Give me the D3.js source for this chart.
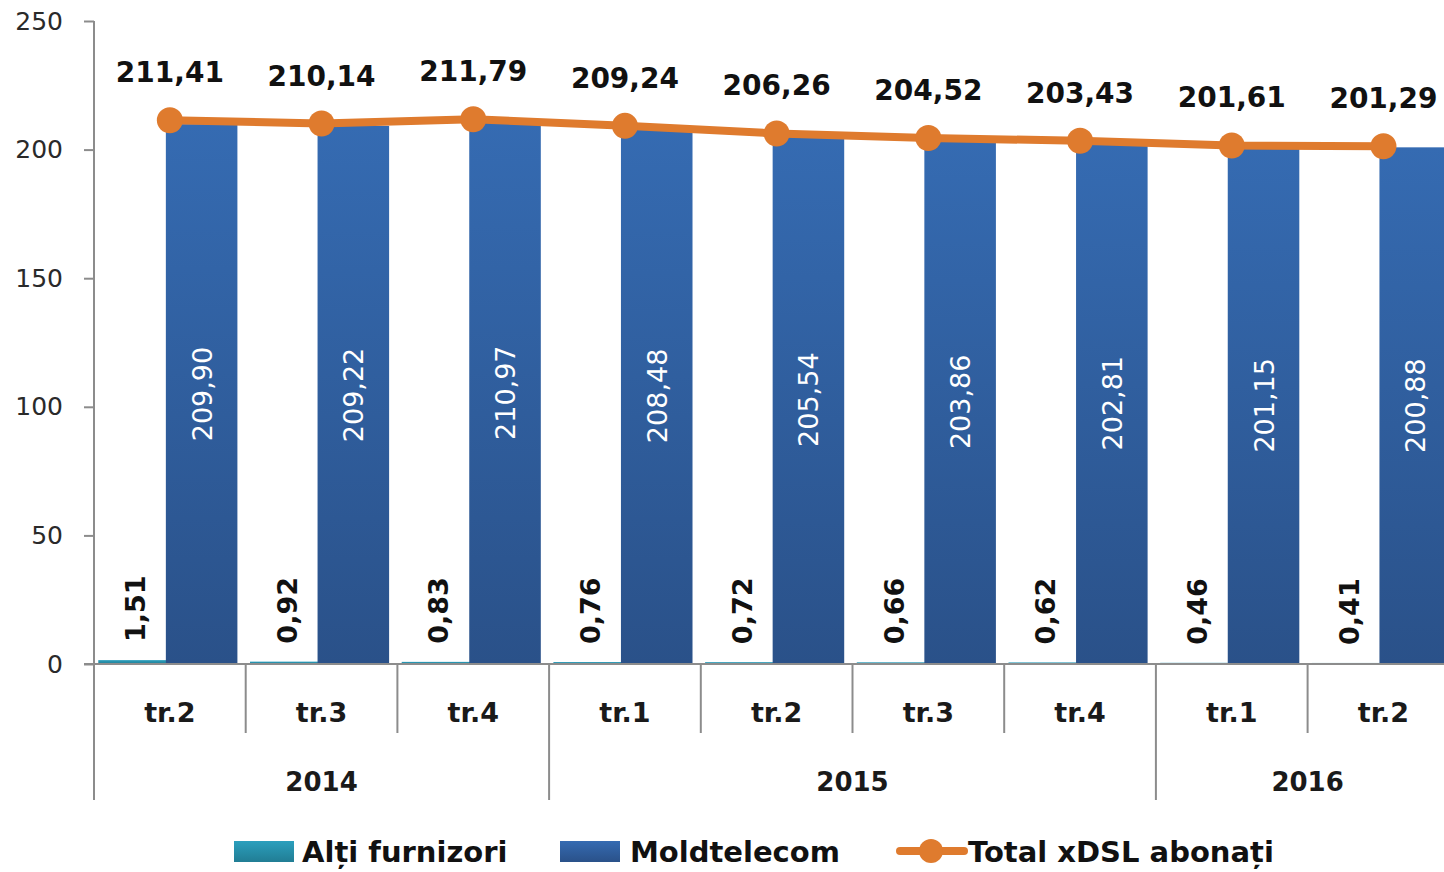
<html>
<head>
  <script src="https://d3js.org/d3.v7.min.js"></script>
  <style>
    body { margin: 0; background: #fff; }
    text { font-family: "DejaVu Sans", Verdana, sans-serif; }
  </style>
</head>
<body>
  <div id="chart"></div>
  <script>
    // date (mii abonati)
    const quarters = ["tr.2", "tr.3", "tr.4", "tr.1", "tr.2", "tr.3", "tr.4", "tr.1", "tr.2"];
    const years = [
      {label: "2014", from: 0, to: 2},
      {label: "2015", from: 3, to: 6},
      {label: "2016", from: 7, to: 8}
    ];
    const alti = [1.51, 0.92, 0.83, 0.76, 0.72, 0.66, 0.62, 0.46, 0.41];
    const moldtelecom = [209.90, 209.22, 210.97, 208.48, 205.54, 203.86, 202.81, 201.15, 200.88];
    const total = [211.41, 210.14, 211.79, 209.24, 206.26, 204.52, 203.43, 201.61, 201.29];
    const yTicks = [0, 50, 100, 150, 200, 250];

    const fmt = v => v.toFixed(2).replace(".", ",");

    const w = 1444, h = 872;
    const left = 94, catW = 151.7;
    const svg = d3.select("#chart").append("svg")
      .attr("width", w).attr("height", h);

    const defs = svg.append("defs");
    const g1 = defs.append("linearGradient").attr("id", "gMolt")
      .attr("x1", 0).attr("y1", 0).attr("x2", 0).attr("y2", 1);
    g1.append("stop").attr("offset", "0%").attr("stop-color", "#356bb2");
    g1.append("stop").attr("offset", "100%").attr("stop-color", "#2a5189");
    const g2 = defs.append("linearGradient").attr("id", "gAlti")
      .attr("x1", 0).attr("y1", 0).attr("x2", 0).attr("y2", 1);
    g2.append("stop").attr("offset", "0%").attr("stop-color", "#2b9fbd");
    g2.append("stop").attr("offset", "100%").attr("stop-color", "#217d94");

    const idx = d3.range(quarters.length);
    const x = d3.scaleBand().domain(idx).range([left, left + catW * quarters.length]).padding(0);
    const xs = d3.scaleBand().domain(["alti", "molt"]).range([0, x.bandwidth()])
      .paddingInner(0).paddingOuter(0.06);
    const y = d3.scaleLinear().domain([0, 250]).range([664, 21]);
    const cx = i => x(i) + x.bandwidth() / 2;

    // axa Y
    const yAxis = d3.axisLeft(y).tickValues(yTicks).tickSize(10).tickPadding(21);
    const ya = svg.append("g").attr("transform", "translate(" + left + ",0)").call(yAxis);
    ya.select(".domain").remove();
    ya.selectAll(".tick line").attr("stroke", "#8c8c8c").attr("stroke-width", 2);
    ya.selectAll(".tick text").attr("font-size", 25).attr("fill", "#2a2a2a")
      .attr("font-family", "DejaVu Sans");
    svg.append("line").attr("x1", left).attr("x2", left).attr("y1", 21).attr("y2", 800)
      .attr("stroke", "#8c8c8c").attr("stroke-width", 2);

    // bare
    svg.selectAll(".alti").data(alti).enter().append("rect")
      .attr("x", (d, i) => x(i) + xs("alti"))
      .attr("width", xs.bandwidth())
      .attr("y", d => y(d)).attr("height", d => y(0) - y(d))
      .attr("fill", "url(#gAlti)");
    svg.selectAll(".molt").data(moldtelecom).enter().append("rect")
      .attr("x", (d, i) => x(i) + xs("molt") - 4)
      .attr("width", xs.bandwidth())
      .attr("y", d => y(d)).attr("height", d => y(0) - y(d))
      .attr("fill", "url(#gMolt)");

    // axa X
    svg.append("line").attr("x1", 84).attr("x2", w).attr("y1", y(0)).attr("y2", y(0))
      .attr("stroke", "#8c8c8c").attr("stroke-width", 2);
    const yearStarts = years.map(d => d.from);
    idx.slice(1).forEach(i => {
      const isYear = yearStarts.includes(i);
      svg.append("line").attr("x1", x(i)).attr("x2", x(i))
        .attr("y1", y(0)).attr("y2", isYear ? 800 : 733)
        .attr("stroke", "#8c8c8c").attr("stroke-width", 2);
    });
    svg.selectAll(".q").data(quarters).enter().append("text")
      .attr("x", (d, i) => cx(i)).attr("y", 722)
      .attr("text-anchor", "middle").attr("font-size", 27).attr("font-weight", "bold")
      .attr("fill", "#1a1a1a").text(d => d);
    svg.selectAll(".yr").data(years).enter().append("text")
      .attr("x", d => (x(d.from) + x(d.to) + x.bandwidth()) / 2).attr("y", 791)
      .attr("text-anchor", "middle").attr("font-size", 26).attr("font-weight", "bold")
      .attr("fill", "#1a1a1a").text(d => d.label);

    // etichete in bare
    svg.selectAll(".lm").data(moldtelecom).enter().append("text")
      .attr("transform", (d, i) => "translate(" + (x(i) + xs("molt") - 4 + xs.bandwidth() / 2 + 10) + "," + ((y(d) + y(0)) / 2) + ") rotate(-90)")
      .attr("text-anchor", "middle").attr("font-size", 27).attr("fill", "#fff")
      .text(d => fmt(d));
    svg.selectAll(".la").data(alti).enter().append("text")
      .attr("transform", (d, i) => "translate(" + (x(i) + xs("alti") + xs.bandwidth() / 2 + 11) + "," + (y(d) - 18) + ") rotate(-90)")
      .attr("text-anchor", "start").attr("font-size", 27).attr("font-weight", "bold")
      .attr("fill", "#111").text(d => fmt(d));

    // linia total
    const line = d3.line().x((d, i) => cx(i)).y(d => y(d));
    svg.append("path").datum(total).attr("d", line)
      .attr("fill", "none").attr("stroke", "#df7b2e").attr("stroke-width", 8)
      .attr("stroke-linejoin", "round");
    svg.selectAll(".dot").data(total).enter().append("circle")
      .attr("cx", (d, i) => cx(i)).attr("cy", d => y(d)).attr("r", 13)
      .attr("fill", "#df7b2e");
    svg.selectAll(".lt").data(total).enter().append("text")
      .attr("x", (d, i) => cx(i)).attr("y", d => y(d) - 38)
      .attr("text-anchor", "middle").attr("font-size", 28).attr("font-weight", "bold")
      .attr("fill", "#111").text(d => fmt(d));

    // legenda
    const leg = svg.append("g").attr("font-size", 29).attr("font-weight", "bold").attr("fill", "#111");
    leg.append("rect").attr("x", 234).attr("y", 841).attr("width", 60).attr("height", 21).attr("fill", "url(#gAlti)");
    leg.append("text").attr("x", 302).attr("y", 862).text("Alți furnizori");
    leg.append("rect").attr("x", 560).attr("y", 841).attr("width", 60).attr("height", 21).attr("fill", "url(#gMolt)");
    leg.append("text").attr("x", 630).attr("y", 862).text("Moldtelecom");
    leg.append("line").attr("x1", 900).attr("x2", 964).attr("y1", 851).attr("y2", 851)
      .attr("stroke", "#df7b2e").attr("stroke-width", 8).attr("stroke-linecap", "round");
    leg.append("circle").attr("cx", 931).attr("cy", 851).attr("r", 12).attr("fill", "#df7b2e");
    leg.append("text").attr("x", 968).attr("y", 862).text("Total xDSL abonați");
  </script>
</body>
</html>
